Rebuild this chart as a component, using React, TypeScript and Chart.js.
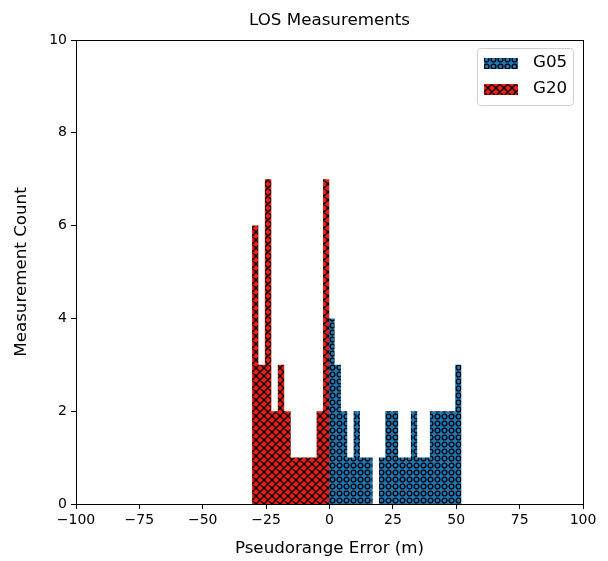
import React, { useEffect, useRef } from 'react';
import { Chart, registerables } from 'chart.js';

Chart.register(...registerables);

// ---- data ----
const g05Edges = [-0.5, 2.0, 4.5, 7.0, 9.5, 12.0, 14.5, 17.0, 19.5, 22.0, 24.6, 27.1, 29.6, 32.1, 34.6, 37.1, 39.6, 42.1, 44.6, 47.1, 49.6, 52.1];
const g05Counts = [4, 3, 2, 1, 2, 1, 1, 0, 1, 2, 2, 1, 1, 2, 1, 1, 2, 2, 2, 2, 3];
const g20Edges = [-30.6, -28.05, -25.5, -22.95, -20.4, -17.85, -15.3, -12.75, -10.2, -7.65, -5.1, -2.55, 0.0];
const g20Counts = [6, 3, 7, 2, 3, 2, 1, 1, 1, 1, 2, 7];
const xTicks = [-100, -75, -50, -25, 0, 25, 50, 75, 100];
const yTicks = [0, 2, 4, 6, 8, 10];
const seriesLabels = ['G05', 'G20'];
const titleText = 'LOS Measurements';
const xLabel = 'Pseudorange Error (m)';
const yLabel = 'Measurement Count';

const FONT = 'DejaVu Sans';
const BLUE = '#1f77b4';
const RED = '#e8201c';

function histPoints(edges: number[], counts: number[]) {
  const pts = counts.map((c, i) => ({ x: edges[i], y: c }));
  pts.push({ x: edges[edges.length - 1], y: 0 });
  return pts;
}

function makeCrossPattern(bg: string) {
  const s = 8;
  const c = document.createElement('canvas');
  c.width = s;
  c.height = s;
  const ctx = c.getContext('2d')!;
  ctx.fillStyle = bg;
  ctx.fillRect(0, 0, s, s);
  ctx.strokeStyle = '#000';
  ctx.lineWidth = 1.4;
  ctx.beginPath();
  for (let k = -1; k <= 1; k++) {
    ctx.moveTo(k * s, 0);
    ctx.lineTo(k * s + s, s);
    ctx.moveTo(k * s + s, 0);
    ctx.lineTo(k * s, s);
  }
  ctx.stroke();
  return ctx.createPattern(c, 'repeat')!;
}

function makeCirclePattern(bg: string) {
  const s = 7;
  const c = document.createElement('canvas');
  c.width = s;
  c.height = s;
  const ctx = c.getContext('2d')!;
  ctx.fillStyle = bg;
  ctx.fillRect(0, 0, s, s);
  ctx.strokeStyle = '#000';
  ctx.lineWidth = 1.3;
  ctx.beginPath();
  ctx.arc(s / 2, s / 2, 2.4, 0, Math.PI * 2);
  ctx.stroke();
  return ctx.createPattern(c, 'repeat')!;
}

const fmt = (v: number) => String(v).replace('-', '\u2212');

export default function App() {
  const ref = useRef<HTMLCanvasElement>(null);

  useEffect(() => {
    if (!ref.current) return;
    const bluePat = makeCirclePattern(BLUE);
    const redPat = makeCrossPattern(RED);
    const patterns = [bluePat, redPat];

    const framePlugin = {
      id: 'frameTitleLegend',
      afterDatasetsDraw(chart: any) {
        const { ctx, chartArea } = chart;
        const { left, right, top, bottom } = chartArea;
        ctx.save();
        // frame
        ctx.strokeStyle = '#000';
        ctx.lineWidth = 1;
        ctx.strokeRect(Math.round(left) + 0.5, Math.round(top) + 0.5, Math.round(right - left), Math.round(bottom - top));
        // title
        ctx.fillStyle = '#000';
        ctx.font = `16.7px "${FONT}"`;
        ctx.textAlign = 'center';
        ctx.textBaseline = 'middle';
        ctx.fillText(titleText, (left + right) / 2, top - 19);
        // legend
        const bx = right - 106;
        const by = top + 8;
        const bw = 96;
        const bh = 57;
        ctx.fillStyle = 'rgba(255,255,255,0.8)';
        ctx.strokeStyle = '#d0d0d0';
        ctx.lineWidth = 1;
        ctx.beginPath();
        (ctx as any).roundRect(bx + 0.5, by + 0.5, bw, bh, 3);
        ctx.fill();
        ctx.stroke();
        seriesLabels.forEach((lab, i) => {
          const cy = by + 15 + i * 26;
          ctx.fillStyle = patterns[i];
          ctx.fillRect(bx + 7, cy - 5, 34, 11);
          ctx.fillStyle = '#000';
          ctx.font = `16.7px "${FONT}"`;
          ctx.textAlign = 'left';
          ctx.textBaseline = 'middle';
          ctx.fillText(lab, bx + 56, cy);
        });
        ctx.restore();
      },
    };

    const chart = new Chart(ref.current, {
      type: 'line',
      data: {
        datasets: [
          {
            label: seriesLabels[0],
            data: histPoints(g05Edges, g05Counts),
            stepped: true,
            fill: 'origin',
            backgroundColor: bluePat,
            borderColor: 'rgba(0,0,0,0)',
            borderWidth: 0,
            pointRadius: 0,
            order: 1,
          },
          {
            label: seriesLabels[1],
            data: histPoints(g20Edges, g20Counts),
            stepped: true,
            fill: 'origin',
            backgroundColor: redPat,
            borderColor: 'rgba(0,0,0,0)',
            borderWidth: 0,
            pointRadius: 0,
            order: 0,
          },
        ] as any,
      },
      options: {
        responsive: false,
        animation: false,
        events: [],
        layout: { padding: { top: 40, right: 25, left: 0, bottom: 0 } },
        plugins: {
          legend: { display: false },
          title: { display: false },
          tooltip: { enabled: false },
        },
        scales: {
          x: {
            type: 'linear',
            min: -100,
            max: 100,
            afterBuildTicks: (scale: any) => {
              scale.ticks = xTicks.map((v) => ({ value: v }));
            },
            afterFit: (scale: any) => {
              scale.height = 57;
              scale.paddingLeft = 0;
              scale.paddingRight = 0;
            },
            ticks: {
              color: '#000',
              font: { family: FONT, size: 14 },
              padding: 3,
              maxRotation: 0,
              autoSkip: false,
              callback: (v: any) => fmt(Number(v)),
            },
            grid: { drawOnChartArea: false, drawTicks: true, tickLength: 5, tickColor: '#000', color: '#000' },
            border: { display: false },
            title: {
              display: true,
              text: xLabel,
              color: '#000',
              font: { family: FONT, size: 16.7 },
              padding: { top: 0, bottom: 2 },
            },
          },
          y: {
            type: 'linear',
            min: 0,
            max: 10,
            afterBuildTicks: (scale: any) => {
              scale.ticks = yTicks.map((v) => ({ value: v }));
            },
            afterFit: (scale: any) => {
              scale.width = 76;
              scale.paddingTop = 0;
              scale.paddingBottom = 0;
            },
            ticks: {
              color: '#000',
              font: { family: FONT, size: 14 },
              padding: 4,
              autoSkip: false,
              callback: (v: any) => fmt(Number(v)),
            },
            grid: { drawOnChartArea: false, drawTicks: true, tickLength: 5, tickColor: '#000', color: '#000' },
            border: { display: false },
            title: {
              display: true,
              text: yLabel,
              color: '#000',
              font: { family: FONT, size: 16.7 },
              padding: { top: 12, bottom: 0 },
            },
          },
        },
      },
      plugins: [framePlugin],
    });
    return () => chart.destroy();
  }, []);

  return (
    <div style={{ position: 'fixed', left: 0, top: 0, width: 608, height: 561, background: '#fff' }}>
      <canvas ref={ref} width={608} height={561} style={{ display: 'block' }} />
    </div>
  );
}
